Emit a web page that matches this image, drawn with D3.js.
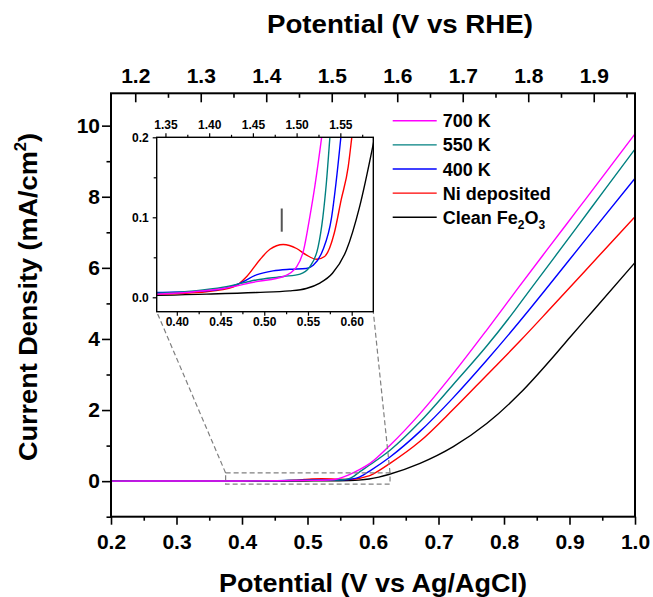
<!DOCTYPE html>
<html>
<head>
<meta charset="utf-8">
<script src="https://cdn.jsdelivr.net/npm/d3@7"></script>
<style>
  html, body { margin: 0; padding: 0; background: #fff; }
  svg { display: block; }
  text { font-family: "Liberation Sans", Arial, Helvetica, sans-serif; font-weight: bold; fill: #000; }
</style>
</head>
<body>
<svg id="chart" width="653" height="597"></svg>
<script>
// ---- Data: linear sweep voltammetry, potential (V vs Ag/AgCl) -> current density (mA/cm2) ----
const seriesNames  = ["700 K", "550 K", "400 K", "Ni deposited", "Clean Fe2O3"];
const seriesColors = ["#ff00ff", "#008080", "#0000ff", "#ff0000", "#000000"];

const v700 = [0.20, 0.30, 0.377, 0.42, 0.453, 0.491, 0.522, 0.537, 0.545, 0.552, 0.558, 0.5655, 0.58, 0.5954, 0.626, 0.6718, 0.7226, 0.7736, 0.8194, 0.865, 0.91, 0.955, 1.0];
const j700 = [0.002, 0.003, 0.004, 0.007, 0.011, 0.0196, 0.026, 0.038, 0.059, 0.10, 0.14, 0.199, 0.33, 0.50, 1.01, 1.90, 3.03, 4.25, 5.38, 6.49, 7.58, 8.67, 9.77];

const v550 = [0.20, 0.30, 0.377, 0.42, 0.453, 0.491, 0.522, 0.541, 0.552, 0.5616, 0.567, 0.571, 0.575, 0.5954, 0.626, 0.6718, 0.7226, 0.7736, 0.8168, 0.8397, 0.91, 0.955, 1.0];
const j550 = [0.002, 0.003, 0.005, 0.008, 0.0125, 0.0217, 0.026, 0.029, 0.038, 0.063, 0.10, 0.1425, 0.199, 0.46, 0.87, 1.67, 2.72, 3.80, 4.81, 5.38, 7.11, 8.23, 9.34];

const v400 = [0.20, 0.30, 0.377, 0.434, 0.472, 0.491, 0.51, 0.529, 0.548, 0.556, 0.567, 0.577, 0.582, 0.5875, 0.5954, 0.626, 0.6718, 0.7226, 0.7736, 0.8407, 0.8626, 0.93, 1.0];
const j400 = [0.002, 0.004, 0.006, 0.008, 0.0175, 0.028, 0.033, 0.035, 0.036, 0.040, 0.059, 0.10, 0.1425, 0.199, 0.29, 0.68, 1.40, 2.35, 3.40, 4.87, 5.37, 6.92, 8.52];

const vNi = [0.20, 0.30, 0.377, 0.434, 0.465, 0.48, 0.495, 0.5065, 0.5217, 0.537, 0.548, 0.56, 0.569, 0.58, 0.588, 0.596, 0.60, 0.626, 0.6718, 0.7226, 0.7736, 0.8244, 0.870, 0.95, 1.0];
const jNi = [0.002, 0.003, 0.004, 0.007, 0.013, 0.026, 0.047, 0.060, 0.066, 0.061, 0.053, 0.0475, 0.051, 0.08, 0.122, 0.163, 0.199, 0.50, 1.12, 2.02, 2.98, 3.94, 4.84, 6.44, 7.44];

const vClean = [0.20, 0.30, 0.377, 0.434, 0.491, 0.529, 0.548, 0.563, 0.578, 0.594, 0.609, 0.624, 0.6718, 0.7226, 0.7736, 0.8244, 0.8753, 0.9008, 0.9354, 1.0];
const jClean = [0.001, 0.002, 0.0025, 0.004, 0.006, 0.008, 0.011, 0.0175, 0.030, 0.059, 0.113, 0.188, 0.50, 0.97, 1.62, 2.47, 3.50, 4.05, 4.78, 6.15];

const seriesV = [v700, v550, v400, vNi, vClean];
const seriesJ = [j700, j550, j400, jNi, jClean];

// Conversion Ag/AgCl -> RHE
const rheOffset = 0.963;

// Main axes ticks
const xDomain = [0.2, 1.0];
const yDomain = [-1, 10.91];
const xMajor = [0.2, 0.3, 0.4, 0.5, 0.6, 0.7, 0.8, 0.9, 1.0];
const xMinor = [0.25, 0.35, 0.45, 0.55, 0.65, 0.75, 0.85, 0.95];
const yMajor = [0, 2, 4, 6, 8, 10];
const yMinor = [-1, 1, 3, 5, 7, 9];
const rheMajor = [1.2, 1.3, 1.4, 1.5, 1.6, 1.7, 1.8, 1.9];
const rheMinor = [1.25, 1.35, 1.45, 1.55, 1.65, 1.75, 1.85, 1.95];

// Inset (zoomed onset region)
const insetXDomain = [0.377, 0.6247];
const insetYDomain = [-0.018, 0.2];
const insetXMajor = [0.40, 0.45, 0.50, 0.55, 0.60];
const insetXMinor = [0.425, 0.475, 0.525, 0.575, 0.625];
const insetYMajor = [0.0, 0.1, 0.2];
const insetYMinor = [0.05, 0.15];
const insetRheMajor = [1.35, 1.40, 1.45, 1.50, 1.55];
const insetRheMinor = [1.375, 1.425, 1.475, 1.525, 1.575];
// Zoom box drawn on the main plot (x range, y range)
const zoomBoxX = [0.375, 0.626];
const zoomBoxY = [-0.085, 0.23];
// Marker of the Ni oxidation feature
const markerV = 0.52;
const markerJ = [0.082, 0.111];

// ---- Drawing ----
const svg = d3.select("#chart");
const FRAME = { left: 111, right: 635, top: 93.3, bottom: 516.7 };
const INSET = { left: 156.7, right: 373.3, top: 137.3, bottom: 311.7 };

const x = d3.scaleLinear().domain(xDomain).range([FRAME.left, FRAME.right]);
const y = d3.scaleLinear().domain(yDomain).range([FRAME.bottom, FRAME.top]);
const xTop = d3.scaleLinear().domain(xDomain.map(d => d + rheOffset)).range([FRAME.left, FRAME.right]);

const ix = d3.scaleLinear().domain(insetXDomain).range([INSET.left, INSET.right]);
const iy = d3.scaleLinear().domain(insetYDomain).range([INSET.bottom, INSET.top]);
const ixTop = d3.scaleLinear().domain(insetXDomain.map(d => d + rheOffset)).range([INSET.left, INSET.right]);

const defs = svg.append("defs");
defs.append("clipPath").attr("id", "clipMain").append("rect")
  .attr("x", FRAME.left).attr("y", FRAME.top)
  .attr("width", FRAME.right - FRAME.left).attr("height", FRAME.bottom - FRAME.top);
defs.append("clipPath").attr("id", "clipInset").append("rect")
  .attr("x", INSET.left).attr("y", INSET.top)
  .attr("width", INSET.right - INSET.left).attr("height", INSET.bottom - INSET.top);

function styleAxis(g, fontSize, strokeW) {
  g.select(".domain").remove();
  g.selectAll(".tick line").attr("stroke", "#000").attr("stroke-width", strokeW);
  g.selectAll(".tick text").attr("font-size", fontSize)
    .attr("font-family", "'Liberation Sans', Arial, sans-serif").attr("font-weight", "bold");
  g.attr("font-size", null).attr("font-family", null);
}

// Main axes
const gAxes = svg.append("g");
const fmt1 = d3.format(".1f");

gAxes.append("g").attr("transform", `translate(0,${FRAME.bottom})`)
  .call(d3.axisBottom(x).tickValues(xMinor).tickSize(4).tickFormat(""))
  .call(g => styleAxis(g, 21, 1.6));
gAxes.append("g").attr("transform", `translate(0,${FRAME.bottom})`)
  .call(d3.axisBottom(x).tickValues(xMajor).tickSize(8).tickPadding(9).tickFormat(fmt1))
  .call(g => styleAxis(g, 21, 1.6));

gAxes.append("g").attr("transform", `translate(${FRAME.left},0)`)
  .call(d3.axisLeft(y).tickValues(yMinor).tickSize(4.5).tickFormat(""))
  .call(g => styleAxis(g, 21, 1.6));
gAxes.append("g").attr("transform", `translate(${FRAME.left},0)`)
  .call(d3.axisLeft(y).tickValues(yMajor).tickSize(9).tickPadding(2).tickFormat(d3.format("d")))
  .call(g => styleAxis(g, 21, 1.6));

gAxes.append("g").attr("transform", `translate(0,${FRAME.top})`)
  .call(d3.axisTop(xTop).tickValues(rheMinor).tickSize(-4.5).tickFormat(""))
  .call(g => styleAxis(g, 21, 1.6));
gAxes.append("g").attr("transform", `translate(0,${FRAME.top})`)
  .call(d3.axisTop(xTop).tickValues(rheMajor).tickSize(-9).tickPadding(10).tickFormat(fmt1))
  .call(g => styleAxis(g, 21, 1.6));

// Curves in main plot
const lineMain = d3.line().x(d => x(d[0])).y(d => y(d[1])).curve(d3.curveMonotoneX);
const lineInset = d3.line().x(d => ix(d[0])).y(d => iy(d[1])).curve(d3.curveMonotoneX);
const drawOrder = [4, 3, 2, 1, 0];

const gMain = svg.append("g").attr("clip-path", "url(#clipMain)");
drawOrder.forEach(i => {
  const pts = seriesV[i].map((v, k) => [v, seriesJ[i][k]]);
  gMain.append("path").attr("d", lineMain(pts))
    .attr("fill", "none").attr("stroke", seriesColors[i]).attr("stroke-width", 1.4);
});

// Frame
svg.append("rect")
  .attr("x", FRAME.left).attr("y", FRAME.top)
  .attr("width", FRAME.right - FRAME.left).attr("height", FRAME.bottom - FRAME.top)
  .attr("fill", "none").attr("stroke", "#000").attr("stroke-width", 2);

// Zoom box and connectors
const dashStyle = g => g.attr("fill", "none").attr("stroke", "#808080").attr("stroke-width", 1.2).attr("stroke-dasharray", "5,3");
svg.append("rect")
  .attr("x", x(zoomBoxX[0])).attr("y", y(zoomBoxY[1]))
  .attr("width", x(zoomBoxX[1]) - x(zoomBoxX[0])).attr("height", y(zoomBoxY[0]) - y(zoomBoxY[1]))
  .call(dashStyle);
svg.append("line")
  .attr("x1", x(zoomBoxX[0])).attr("y1", y(zoomBoxY[1]))
  .attr("x2", INSET.left).attr("y2", INSET.bottom).call(dashStyle);
svg.append("line")
  .attr("x1", x(zoomBoxX[1])).attr("y1", y(zoomBoxY[1]))
  .attr("x2", INSET.right).attr("y2", INSET.bottom).call(dashStyle);

// Inset
svg.append("rect")
  .attr("x", INSET.left).attr("y", INSET.top)
  .attr("width", INSET.right - INSET.left).attr("height", INSET.bottom - INSET.top)
  .attr("fill", "#fff");

const gInset = svg.append("g").attr("clip-path", "url(#clipInset)");
drawOrder.forEach(i => {
  const pts = seriesV[i].map((v, k) => [v, seriesJ[i][k]]);
  gInset.append("path").attr("d", lineInset(pts))
    .attr("fill", "none").attr("stroke", seriesColors[i]).attr("stroke-width", 1.4);
});

svg.append("line")
  .attr("x1", ix(markerV)).attr("x2", ix(markerV))
  .attr("y1", iy(markerJ[0])).attr("y2", iy(markerJ[1]))
  .attr("stroke", "#555").attr("stroke-width", 2);

const gIA = svg.append("g");
gIA.append("g").attr("transform", `translate(0,${INSET.bottom})`)
  .call(d3.axisBottom(ix).tickValues(insetXMinor.filter(d => d <= insetXDomain[1])).tickSize(2.5).tickFormat(""))
  .call(g => styleAxis(g, 12, 1.2));
gIA.append("g").attr("transform", `translate(0,${INSET.bottom})`)
  .call(d3.axisBottom(ix).tickValues(insetXMajor).tickSize(4).tickPadding(2).tickFormat(d3.format(".2f")))
  .call(g => styleAxis(g, 12, 1.2));
gIA.append("g").attr("transform", `translate(${INSET.left},0)`)
  .call(d3.axisLeft(iy).tickValues(insetYMinor).tickSize(3).tickFormat(""))
  .call(g => styleAxis(g, 12, 1.2));
gIA.append("g").attr("transform", `translate(${INSET.left},0)`)
  .call(d3.axisLeft(iy).tickValues(insetYMajor).tickSize(4).tickPadding(4).tickFormat(fmt1))
  .call(g => styleAxis(g, 12, 1.2));
gIA.append("g").attr("transform", `translate(0,${INSET.top})`)
  .call(d3.axisTop(ixTop).tickValues(insetRheMinor).tickSize(2.5).tickFormat(""))
  .call(g => styleAxis(g, 12, 1.2));
gIA.append("g").attr("transform", `translate(0,${INSET.top})`)
  .call(d3.axisTop(ixTop).tickValues(insetRheMajor).tickSize(4).tickPadding(4).tickFormat(d3.format(".2f")))
  .call(g => styleAxis(g, 12, 1.2));

svg.append("rect")
  .attr("x", INSET.left).attr("y", INSET.top)
  .attr("width", INSET.right - INSET.left).attr("height", INSET.bottom - INSET.top)
  .attr("fill", "none").attr("stroke", "#000").attr("stroke-width", 1.4);

// Legend
const legend = svg.append("g").attr("transform", "translate(392.7,120.7)");
seriesNames.forEach((name, i) => {
  const row = legend.append("g").attr("transform", `translate(0,${i * 24.15})`);
  row.append("line").attr("x1", 0).attr("x2", 44).attr("y1", 0).attr("y2", 0)
    .attr("stroke", seriesColors[i]).attr("stroke-width", 1.4);
  const t = row.append("text").attr("x", 50).attr("y", 6.6).attr("font-size", 18);
  const m = name.match(/^(.*Fe)(\d)(O)(\d)$/);
  if (m) {
    t.append("tspan").text(m[1]);
    t.append("tspan").attr("font-size", 12).attr("dy", 5).text(m[2]);
    t.append("tspan").attr("dy", -5).text(m[3]);
    t.append("tspan").attr("font-size", 12).attr("dy", 5).text(m[4]);
  } else {
    t.text(name);
  }
});

// Axis titles
svg.append("text").attr("x", 373).attr("y", 591.5).attr("text-anchor", "middle")
  .attr("font-size", 26).attr("textLength", 308).attr("lengthAdjust", "spacingAndGlyphs")
  .text("Potential (V vs Ag/AgCl)");
svg.append("text").attr("x", 400).attr("y", 33.3).attr("text-anchor", "middle")
  .attr("font-size", 26).attr("textLength", 266).attr("lengthAdjust", "spacingAndGlyphs")
  .text("Potential (V vs RHE)");
const yTitle = svg.append("text").attr("transform", "translate(37,297) rotate(-90)")
  .attr("text-anchor", "middle").attr("font-size", 26)
  .attr("textLength", 328).attr("lengthAdjust", "spacingAndGlyphs");
yTitle.append("tspan").text("Current Density (mA/cm");
yTitle.append("tspan").attr("font-size", 16).attr("dy", -11).text("2");
yTitle.append("tspan").attr("dy", 11).text(")");
</script>
</body>
</html>
